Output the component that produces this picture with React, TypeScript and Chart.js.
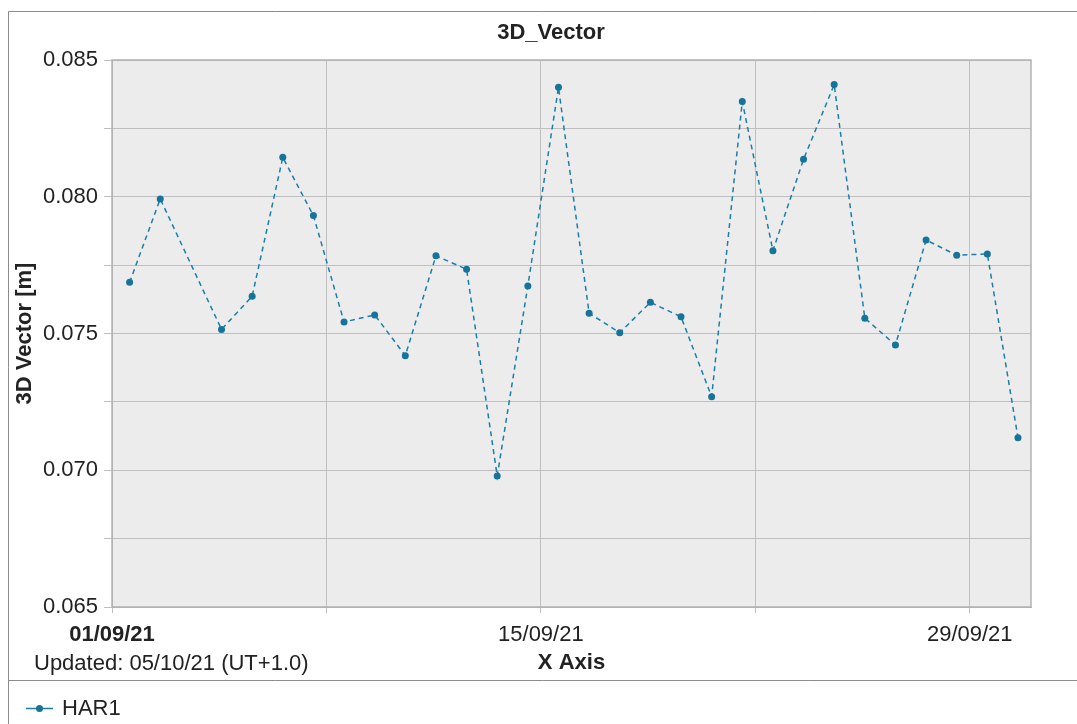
import React, { useEffect, useRef } from "react";
import { Chart, registerables } from "chart.js";

Chart.register(...registerables);

// ---- data ----
const chartTitle = "3D_Vector";
const seriesName = "HAR1";
const updatedText = "Updated: 05/10/21 (UT+1.0)";
const xAxisTitle = "X Axis";
const yAxisTitle = "3D Vector [m]";

// day of September 2021 for each sample
const sampleDays = [1, 2, 4, 5, 6, 7, 8, 9, 10, 11, 12, 13, 14, 15, 16, 17, 18, 19, 20, 21, 22, 23, 24, 25, 26, 27, 28, 29, 30];
// fraction of the day at which each sample is stamped (~13:48)
const sampleTimeOfDay = 0.575;
const har1Values = [
  0.07687, 0.07992, 0.07515, 0.07636, 0.08144, 0.07931, 0.07542, 0.07568, 0.07419, 0.07784,
  0.07735, 0.06979, 0.07674, 0.084, 0.07574, 0.07503, 0.07614, 0.07561, 0.07269, 0.08348,
  0.07803, 0.08137, 0.0841, 0.07556, 0.07458, 0.07842, 0.07786, 0.07791, 0.07119,
];

const xMinDay = 1;
const xMaxDay = 31;
const xTickDays = [1, 8, 15, 22, 29];
const xTickLabels = ["01/09/21", "", "15/09/21", "", "29/09/21"];

const yMin = 0.065;
const yMax = 0.085;
const yStep = 0.0025;
const yLabelEvery = 0.005;

// ---- styles ----
const FONT = "'Liberation Sans', Arial, sans-serif";
const SERIES_COLOR = "#1b7ea8";
const POINT_COLOR = "#16739a";
const PLOT_BG = "#ececec";
const GRID = "#bfbfbf";
const TEXT = "#222222";
const FS = 22;

const decorPlugin = {
  id: "decor",
  beforeDraw(chart: any) {
    const { ctx, chartArea: a } = chart;
    ctx.save();
    ctx.fillStyle = "#ffffff";
    ctx.fillRect(0, 0, chart.width, chart.height);
    ctx.fillStyle = PLOT_BG;
    ctx.fillRect(a.left, a.top, a.right - a.left, a.bottom - a.top);
    ctx.restore();
  },
  beforeDatasetsDraw(chart: any) {
    const { ctx, chartArea: a } = chart;
    ctx.save();
    ctx.strokeStyle = "#b2b2b2";
    ctx.lineWidth = 1.5;
    ctx.strokeRect(a.left, a.top, a.right - a.left, a.bottom - a.top);
    ctx.restore();
  },
  afterDraw(chart: any) {
    const { ctx } = chart;
    const W = chart.width;
    const H = chart.height;
    ctx.save();
    // outer frame
    ctx.strokeStyle = "#8c8c8c";
    ctx.lineWidth = 1;
    ctx.beginPath();
    ctx.moveTo(8.5, H);
    ctx.lineTo(8.5, 11.5);
    ctx.lineTo(W, 11.5);
    ctx.moveTo(8.5, 680.5);
    ctx.lineTo(W, 680.5);
    ctx.stroke();

    ctx.fillStyle = TEXT;
    ctx.textBaseline = "middle";
    // title
    ctx.font = `bold ${FS}px ${FONT}`;
    ctx.textAlign = "center";
    ctx.fillText(chartTitle, 551, 33);
    // updated note
    ctx.font = `${FS}px ${FONT}`;
    ctx.textAlign = "left";
    ctx.fillText(updatedText, 34, 664);

    // legend
    ctx.strokeStyle = SERIES_COLOR;
    ctx.lineWidth = 1.5;
    ctx.beginPath();
    ctx.moveTo(26, 708.5);
    ctx.lineTo(53, 708.5);
    ctx.stroke();
    ctx.fillStyle = POINT_COLOR;
    ctx.beginPath();
    ctx.arc(39.5, 708.5, 3.5, 0, Math.PI * 2);
    ctx.fill();
    ctx.fillStyle = TEXT;
    ctx.fillText(seriesName, 62, 709);
    ctx.restore();
  },
};

export default function App() {
  const ref = useRef<HTMLCanvasElement | null>(null);

  useEffect(() => {
    if (!ref.current) return;
    Chart.defaults.font.family = FONT;
    const points = sampleDays.map((d, i) => ({ x: d + sampleTimeOfDay, y: har1Values[i] }));
    const chart = new Chart(ref.current, {
      type: "scatter",
      data: {
        datasets: [
          {
            label: seriesName,
            data: points,
            showLine: true,
            borderColor: SERIES_COLOR,
            borderWidth: 1.5,
            borderDash: [5, 4],
            pointBackgroundColor: POINT_COLOR,
            pointBorderColor: POINT_COLOR,
            pointRadius: 3.5,
            pointBorderWidth: 0,
            fill: false,
          },
        ],
      },
      options: {
        animation: false,
        responsive: false,
        layout: { padding: { top: 60, right: 46, left: 0, bottom: 0 } },
        plugins: {
          legend: { display: false },
          title: { display: false },
          tooltip: { enabled: false },
        },
        scales: {
          x: {
            type: "linear",
            min: xMinDay,
            max: xMaxDay,
            afterBuildTicks: (s: any) => {
              s.ticks = xTickDays.map((v) => ({ value: v }));
            },
            afterFit: (s: any) => {
              s.height = 117;
            },
            ticks: {
              autoSkip: false,
              maxRotation: 0,
              padding: 9,
              color: TEXT,
              font: (c: any) => ({ size: FS, weight: c.index === 0 ? "bold" : "normal" }),
              callback: (v: any) => {
                const i = xTickDays.indexOf(Number(v));
                return i >= 0 ? xTickLabels[i] : "";
              },
            },
            grid: { color: GRID, tickLength: 6, lineWidth: 1 },
            border: { color: "#b2b2b2" },
            title: {
              display: true,
              text: xAxisTitle,
              color: TEXT,
              font: { size: FS, weight: "bold" },
              padding: { top: 0, bottom: 48 },
            },
          },
          y: {
            type: "linear",
            min: yMin,
            max: yMax,
            afterFit: (s: any) => {
              s.width = 112;
            },
            ticks: {
              stepSize: yStep,
              padding: 6,
              color: TEXT,
              font: { size: FS },
              callback: (v: any) => {
                const r = Number(v) / yLabelEvery;
                return Math.abs(r - Math.round(r)) < 1e-6 ? Number(v).toFixed(3) : "";
              },
            },
            grid: { color: GRID, tickLength: 8, lineWidth: 1 },
            border: { color: "#b2b2b2" },
            title: {
              display: true,
              text: yAxisTitle,
              color: TEXT,
              font: { size: FS, weight: "bold" },
              padding: { top: 12, bottom: 0 },
            },
          },
        },
      },
      plugins: [decorPlugin],
    });
    return () => chart.destroy();
  }, []);

  return (
    <div style={{ position: "fixed", left: 0, top: 0, width: 1077, height: 724, background: "#fff" }}>
      <canvas ref={ref} width={1077} height={724} style={{ width: 1077, height: 724, display: "block" }} />
    </div>
  );
}
